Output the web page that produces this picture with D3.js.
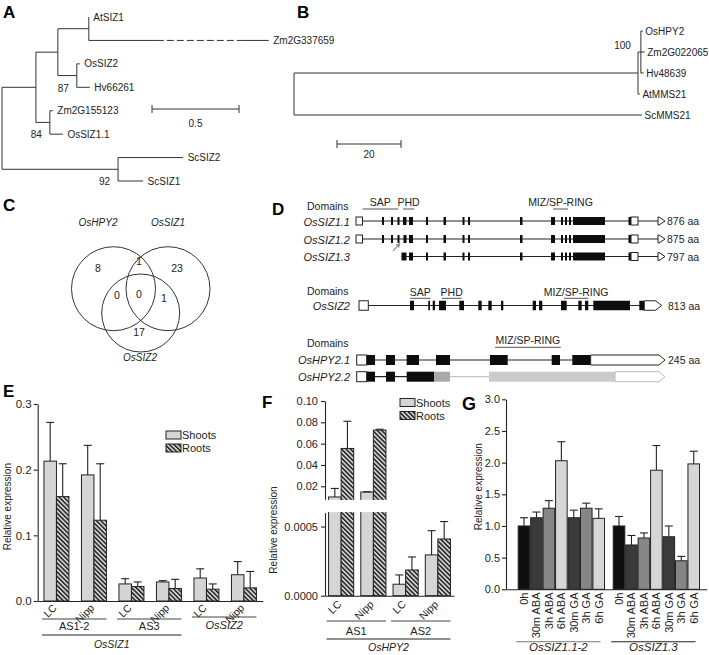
<!DOCTYPE html>
<html><head><meta charset="utf-8">
<script src="https://cdn.jsdelivr.net/npm/d3@7/dist/d3.min.js"></script>
<style>html,body{margin:0;padding:0;background:#fff}svg{display:block}</style>
</head><body>
<svg id="fig" width="709" height="655"></svg>
<script>
// ================= DATA =================
// A: SIZ1-type tree (branch lengths, substitutions/site)
const leafOrderA = ["AtSIZ1","Zm2G337659","OsSIZ2","Hv66261","Zm2G155123","OsSIZ1.1","ScSIZ2","ScSIZ1"];
const treeA = {children:[
  {len:0.195, children:[
    {len:0.126, children:[
      {len:0.178, children:[{name:"AtSIZ1",len:0},{name:"Zm2G337659",len:1.034,gap:[0.378,0.85]}]},
      {len:0.109, boot:"87", children:[{name:"OsSIZ2",len:0.017},{name:"Hv66261",len:0.075}]}
    ]},
    {len:0.080, boot:"84", children:[{name:"Zm2G155123",len:0.017},{name:"OsSIZ1.1",len:0.075}]}
  ]},
  {len:0.667, boot:"92", children:[{name:"ScSIZ2",len:0.374},{name:"ScSIZ1",len:0.144}]}
]};
const scaleBarA = 0.5;

// B: MMS21-type tree
const leafOrderB = ["OsHPY2","Zm2G022065","Hv48639","AtMMS21","ScMMS21"];
const treeB = {children:[
  {len:107.5, children:[
    {len:0.9, boot:"100", children:[{name:"OsHPY2",len:0.6},{name:"Zm2G022065",len:1.2},{name:"Hv48639",len:0.9}]},
    {name:"AtMMS21",len:0.6}
  ]},
  {name:"ScMMS21",len:108.75}
]};
const scaleBarB = 20;

// C: Venn
const vennSets = ["OsHPY2","OsSIZ1","OsSIZ2"];
const vennRegions = ["OsHPY2 only","OsSIZ1 only","OsSIZ2 only","OsHPY2+OsSIZ1","OsHPY2+OsSIZ2","OsSIZ1+OsSIZ2","all"];
const vennCounts = [8,23,17,1,0,1,0];

// D: gene models (relative position units, type)
const siz11 = [[1,7.5,"utr"],[27,29,"cds"],[36,38,"cds"],[42.5,44.5,"cds"],[48,51.5,"cds"],[54,58,"cds"],[71,73,"cds"],[88.5,91,"cds"],[107.5,109.5,"cds"],[113,115,"cds"],[165,167.5,"cds"],[196,200,"cds"],[206,208,"cds"],[210,212,"cds"],[214,216,"cds"],[218,250,"cds"],[273.5,276,"cds"],[276,283,"utr"],[303,310,"end"]];
const siz12 = [[1,7.5,"utr"],[27,29,"cds"],[36,38,"cds"],[42.5,44.5,"cds"],[48.5,51.5,"cds"],[54,58,"cds"],[71,73,"cds"],[88.5,91,"cds"],[107.5,109.5,"cds"],[113,115,"cds"],[165,167.5,"cds"],[196,200,"cds"],[206,208,"cds"],[210,212,"cds"],[214,216,"cds"],[218,250,"cds"],[273.5,276,"cds"],[276,283,"utr"],[303,310,"end"]];
const siz13 = [[46.5,51.5,"cds"],[54,58,"cds"],[71,73,"cds"],[88.5,91,"cds"],[107.5,109.5,"cds"],[113,115,"cds"],[165,167.5,"cds"],[196,200,"cds"],[206,208,"cds"],[210,212,"cds"],[214,216,"cds"],[218,250,"cds"],[273.5,276,"cds"],[276,283,"utr"],[303,310,"end"]];
const siz2 = [[4,13.3,"utr"],[55,59,"cds"],[73.3,75,"cds"],[77.7,80,"cds"],[84,91,"cds"],[104.3,109,"cds"],[123.3,126.7,"cds"],[133.3,136.7,"cds"],[146,148.3,"cds"],[177.7,181,"cds"],[184,187.3,"cds"],[206,211.7,"cds"],[223.3,226.7,"cds"],[230,233.3,"cds"],[238.3,275,"cds"],[284.3,289.3,"cds"],[289.3,306.7,"end"]];
const hpy21 = [[1.7,11.7,"utr"],[11.7,20,"cds"],[31,40,"cds"],[51.7,64,"cds"],[81,95,"cds"],[135,152.7,"cds"],[196.7,205,"cds"],[217.3,235.7,"cds"],[235.7,310,"end"]];
const hpy22 = [[1.7,11.7,"utr"],[11.7,20,"cds"],[31,40,"cds"],[51.7,79.3,"cds"],[79.3,95,"mid"],[134,260,"pale"],[260,310,"endPale"]];
const hpy22Introns = [[1.7,79.3,"dark"],[95,134,"pale"]];
const domainsSIZ1 = [["SAP",7.5,43],["PHD",48,59],["MIZ/SP-RING",198,213]];
const domainsSIZ2 = [["SAP",55,75.7],["PHD",86.7,106.7],["MIZ/SP-RING",209,233.3]];
const domainsHPY2 = [["MIZ/SP-RING",140,205.7]];
const proteinLengths = ["876 aa","875 aa","797 aa","813 aa","245 aa"];

// E: qRT-PCR OsSIZ1 / OsSIZ2
const eCats = ["AS1-2 LC","AS1-2 Nipp","AS3 LC","AS3 Nipp","OsSIZ2 LC","OsSIZ2 Nipp"];
const eTickLabels = ["LC","Nipp","LC","Nipp","LC","Nipp"];
const eAmplicons = ["AS1-2","AS1-2","AS3","AS3","OsSIZ2","OsSIZ2"];
const eShoots = [0.213,0.192,0.026,0.029,0.035,0.040];
const eShootsSD = [0.059,0.045,0.008,0.002,0.014,0.020];
const eRoots = [0.159,0.123,0.022,0.019,0.018,0.020];
const eRootsSD = [0.050,0.086,0.007,0.014,0.008,0.025];
const eYTicks = [0,0.1,0.2,0.3];

// F: qRT-PCR OsHPY2
const fCats = ["AS1 LC","AS1 Nipp","AS2 LC","AS2 Nipp"];
const fTickLabels = ["LC","Nipp","LC","Nipp"];
const fAmplicons = ["AS1","AS1","AS2","AS2"];
const fShoots = [0.0100,0.0146,0.000083,0.000295];
const fShootsSD = [0.0080,0.0003,0.000067,0.000175];
const fRoots = [0.0555,0.0727,0.000186,0.00041];
const fRootsSD = [0.0255,0.0008,0.000094,0.000126];
const fYTicksTop = [0.02,0.04,0.06,0.08,0.10];
const fYTicksBottom = [0,0.0005];
const fBreak = [0.0006,0.0078];

// G: hormone treatments
const gGroups = ["OsSIZ1.1-2","OsSIZ1.3"];
const gConds = ["0h","30m ABA","3h ABA","6h ABA","30m GA","3h GA","6h GA"];
const gVals1 = [1.00,1.13,1.28,2.03,1.13,1.28,1.12];
const gSD1 = [0.13,0.09,0.12,0.30,0.12,0.08,0.15];
const gVals2 = [1.00,0.70,0.81,1.88,0.83,0.45,1.98];
const gSD2 = [0.15,0.15,0.08,0.39,0.17,0.07,0.20];
const gYTicks = [0,0.5,1,1.5,2,2.5,3];

// ================= DRAWING =================
const FONT = '"Liberation Sans", Arial, Helvetica, sans-serif';
const INK = "#232323";
const svg = d3.select("#fig");

const defs = svg.append("defs");
const pat = defs.append("pattern").attr("id","hatch").attr("patternUnits","userSpaceOnUse")
  .attr("width",3.2).attr("height",3.2).attr("patternTransform","rotate(-45)");
pat.append("rect").attr("width",3.2).attr("height",3.2).attr("fill","#cfcfcf");
pat.append("rect").attr("width",1.4).attr("height",3.2).attr("fill","#1a1a1a");

function txt(g, x, y, s, o = {}) {
  const t = g.append("text").attr("x", x).attr("y", y).text(s)
    .style("font-family", FONT).style("font-size", (o.size || 11) + "px").attr("fill", o.fill || INK);
  if (o.anchor) t.attr("text-anchor", o.anchor);
  if (o.italic) t.style("font-style", "italic");
  if (o.bold) t.style("font-weight", "bold");
  if (o.rotate != null) t.attr("transform", `rotate(${o.rotate},${x},${y})`);
  return t;
}
function ln(g, x1, y1, x2, y2, o = {}) {
  const l = g.append("line").attr("x1", x1).attr("y1", y1).attr("x2", x2).attr("y2", y2)
    .attr("stroke", o.stroke || INK).attr("stroke-width", o.w || 1);
  if (o.dash) l.attr("stroke-dasharray", o.dash);
  return l;
}

// panel letters
const letters = [["A",3,18,17],["B",297,18,17],["C",3,211,17],["D",272,215,17],["E",3,397,17],["F",262,408,17],["G",462,410,18]];
letters.forEach(([s,x,y,sz]) => txt(svg, x, y, s, {size: sz, bold: true, fill: "#000"}));

// ---- trees ----
function drawTree(data, leafOrder, xs, yRange, opt) {
  const ys = d3.scalePoint().domain(leafOrder).range(yRange);
  const root = d3.hierarchy(data);
  root.eachBefore(n => { n.bl = (n.parent ? n.parent.bl : 0) + (n.data.len || 0); });
  root.eachAfter(n => { n.py = n.children ? (n.children[0].py + n.children[n.children.length-1].py) / 2 : ys(n.data.name); });
  const g = svg.append("g");
  root.each(n => {
    const x = xs(n.bl);
    if (n.children) ln(g, x, n.children[0].py, x, n.children[n.children.length-1].py, {stroke:"#333"});
    if (n.parent) {
      const x0 = xs(n.parent.bl);
      if (n.data.gap) {
        const xa = x0 + (x - x0) * n.data.gap[0], xb = x0 + (x - x0) * n.data.gap[1];
        ln(g, x0, n.py, xa, n.py, {stroke:"#333"});
        ln(g, xa, n.py, xb, n.py, {stroke:"#333", dash:"7,3"});
        ln(g, xb, n.py, x, n.py, {stroke:"#333"});
      } else ln(g, x0, n.py, x, n.py, {stroke:"#333"});
    }
    if (!n.children) txt(g, x + opt.labelDx, n.py + 3.6, n.data.name, {size: opt.size});
    if (n.data.boot) txt(g, x + opt.bootDx, n.py + opt.bootDy, n.data.boot, {size: opt.size, anchor: "end"});
  });
  return g;
}
const xsA = d3.scaleLinear().domain([0,1]).range([2,176]);
const gA = drawTree(treeA, leafOrderA, xsA, [17,181], {labelDx:4.5, bootDx:-8, bootDy:16, size:10});
{
  const x0 = 152, x1 = x0 + xsA(scaleBarA) - xsA(0), y = 109;
  ln(gA, x0, y, x1, y, {stroke:"#333"}); ln(gA, x0, y-4, x0, y+4, {stroke:"#333"}); ln(gA, x1, y-4, x1, y+4, {stroke:"#333"});
  txt(gA, (x0+x1)/2, y+18, String(scaleBarA), {size:10, anchor:"middle"});
}
const xsB = d3.scaleLinear().domain([0,100]).range([294,614]);
const gB = drawTree(treeB, leafOrderB, xsB, [31,115], {labelDx:2.5, bootDx:-10, bootDy:-3, size:10});
{
  const x0 = 337, x1 = x0 + xsB(scaleBarB) - xsB(0), y = 144;
  ln(gB, x0, y, x1, y, {stroke:"#333"}); ln(gB, x0, y-4, x0, y+4, {stroke:"#333"}); ln(gB, x1, y-4, x1, y+4, {stroke:"#333"});
  txt(gB, (x0+x1)/2, y+14, String(scaleBarB), {size:10, anchor:"middle"});
}

// ---- Venn ----
{
  const g = svg.append("g");
  const centers = [[113.5,288.7,42],[168,288.7,42],[140.7,313,39]];
  centers.forEach(c => g.append("circle").attr("cx", c[0]).attr("cy", c[1]).attr("r", c[2])
    .attr("fill","none").attr("stroke","#333").attr("stroke-width",1));
  const setPos = [[98,225.5],[168,225.5],[140,361]];
  vennSets.forEach((s,i) => txt(g, setPos[i][0], setPos[i][1], s, {size:10, italic:true, anchor:"middle"}));
  const regPos = [[98,272],[177,272],[139,336],[139,265],[117,299],[164,302],[139,298]];
  vennCounts.forEach((v,i) => txt(g, regPos[i][0], regPos[i][1], String(v), {size:10.5, anchor:"middle"}));
}

// ---- D: gene models ----
const gx = d3.scaleLinear().domain([0,310]).range([355,665]);
function drawGene(g, parts, y, h, introns) {
  const ints = introns || [[parts[0][0], parts[parts.length-1][0], "dark"]];
  ints.forEach(([a,b,c]) => ln(g, gx(a), y, gx(b), y, {stroke: c === "pale" ? "#c4c4c4" : INK, w: 1.2}));
  parts.forEach(([a,b,t]) => {
    const x0 = gx(a), x1 = gx(b);
    if (t === "end" || t === "endPale") {
      const tip = Math.min(6, x1 - x0);
      const pts = [[x0,y-h/2],[x1-tip,y-h/2],[x1,y],[x1-tip,y+h/2],[x0,y+h/2]];
      g.append("polygon").attr("points", pts.map(p => p.join(",")).join(" "))
        .attr("fill","#fff").attr("stroke", t === "end" ? INK : "#bdbdbd").attr("stroke-width",1);
    } else {
      const fill = {utr:"#fff", cds:"#0d0d0d", mid:"#a9a9a9", pale:"#cbcbcb"}[t];
      const r = g.append("rect").attr("x", x0).attr("y", y - h/2).attr("width", x1 - x0).attr("height", h).attr("fill", fill);
      if (t === "utr") r.attr("stroke", INK).attr("stroke-width", 1);
    }
  });
}
function drawDomains(g, doms, lineY, labelY) {
  doms.forEach(([name,a,b]) => {
    ln(g, gx(a), lineY, gx(b), lineY, {stroke:"#555", w:1});
    txt(g, (gx(a)+gx(b))/2, labelY, name, {size:10.5, anchor:"middle"});
  });
}
{
  const g = svg.append("g");
  // SIZ1 block
  txt(g, 307, 210, "Domains", {size:10.5});
  drawDomains(g, domainsSIZ1, 209, 206);
  const siz1Rows = [[siz11,"OsSIZ1.1",221],[siz12,"OsSIZ1.2",239],[siz13,"OsSIZ1.3",256.5]];
  siz1Rows.forEach(([parts,name,y],i) => {
    drawGene(g, parts, y, 8);
    txt(g, 350, y + 4.5, name, {size:11, italic:true, anchor:"end"});
    txt(g, 667, y + 4, proteinLengths[i], {size:10.5});
  });
  // small grey arrow marking alternative site
  g.append("path").attr("d","M392.5,250.5 L397,246 L395.5,244.5 L400.5,243 L399,248 L397.8,246.8 L393.5,251.3 Z")
    .attr("fill","#8c8c8c");
  // SIZ2 block
  txt(g, 307, 294.5, "Domains", {size:10.5});
  drawDomains(g, domainsSIZ2, 298.3, 295.5);
  drawGene(g, siz2, 305.5, 9.5);
  txt(g, 350, 310, "OsSIZ2", {size:11, italic:true, anchor:"end"});
  txt(g, 668, 309.5, proteinLengths[3], {size:10.5});
  // HPY2 block
  txt(g, 307, 347, "Domains", {size:10.5});
  drawDomains(g, domainsHPY2, 347.3, 344);
  drawGene(g, hpy21, 360, 10);
  txt(g, 350, 364, "OsHPY2.1", {size:11, italic:true, anchor:"end"});
  txt(g, 668, 364, proteinLengths[4], {size:10.5});
  drawGene(g, hpy22, 376.7, 10, hpy22Introns);
  txt(g, 350, 381, "OsHPY2.2", {size:11, italic:true, anchor:"end"});
}

// ---- helpers for bar charts ----
function styleAxis(sel, size) {
  sel.selectAll("path.domain").attr("stroke", INK).attr("stroke-width", 1.1);
  sel.selectAll(".tick line").attr("stroke", INK).attr("stroke-width", 1.1);
  sel.selectAll(".tick text").style("font-family", FONT).style("font-size", size + "px").attr("fill", INK);
}
function errBar(g, cx, yTop, yErr, cap) {
  ln(g, cx, yTop, cx, yErr, {w:1.1});
  ln(g, cx - cap/2, yErr, cx + cap/2, yErr, {w:1.1});
}
function legend(g, x, y) {
  g.append("rect").attr("x", x).attr("y", y).attr("width", 15).attr("height", 8).attr("fill","#d5d5d5").attr("stroke", INK).attr("stroke-width",1);
  txt(g, x + 16, y + 8, "Shoots", {size:11});
  g.append("rect").attr("x", x).attr("y", y + 13).attr("width", 15).attr("height", 8).attr("fill","url(#hatch)").attr("stroke", INK).attr("stroke-width",1);
  txt(g, x + 16, y + 21, "Roots", {size:11});
}
function groupLines(g, xb, cats, groups, lineY, labelY, size) {
  const names = Array.from(new Set(groups));
  names.forEach(nm => {
    const idx = cats.filter((c,i) => groups[i] === nm);
    const a = xb(idx[0]) - 2, b = xb(idx[idx.length-1]) + xb.bandwidth();
    const ly = typeof lineY === "function" ? lineY(nm) : lineY;
    const ty = typeof labelY === "function" ? labelY(nm) : labelY;
    ln(g, a, ly, b, ly, {stroke:"#444", w:1.1});
    txt(g, (a+b)/2, ty, nm, {size: size, anchor:"middle", italic: nm.startsWith("Os")});
  });
}

// ---- E ----
{
  const g = svg.append("g");
  const ey = d3.scaleLinear().domain([0,0.3]).range([601,404]);
  const ex = d3.scaleBand().domain(eCats).range([37.7,262.7]).paddingInner(1/3).paddingOuter(1/6);
  const es = d3.scaleBand().domain(["Shoots","Roots"]).range([0, ex.bandwidth()]);
  eCats.forEach((c,i) => {
    [[eShoots,eShootsSD,"Shoots","#d5d5d5"],[eRoots,eRootsSD,"Roots","url(#hatch)"]].forEach(([vals,sd,s,fill]) => {
      const x = ex(c) + es(s), w = es.bandwidth();
      errBar(g, x + w/2, ey(vals[i]), ey(vals[i] + sd[i]), 8);
      g.append("rect").attr("x", x).attr("y", ey(vals[i])).attr("width", w).attr("height", ey(0) - ey(vals[i]))
        .attr("fill", fill).attr("stroke", INK).attr("stroke-width", 1);
    });
  });
  g.append("g").attr("transform","translate(37.7,0)")
    .call(d3.axisLeft(ey).tickValues(eYTicks).tickFormat(d3.format(".1f")).tickSize(4).tickSizeOuter(0).tickPadding(2))
    .call(s => styleAxis(s, 11.5));
  g.append("g").attr("transform","translate(0,601)")
    .call(d3.axisBottom(ex).tickSize(0).tickFormat(""))
    .call(s => styleAxis(s, 11));
  eCats.forEach((c,i) => {
    const ax = ex(c) + ex.bandwidth()/2 + 1, ay = 608.5;
    txt(g, ax, ay, eTickLabels[i], {size:10.5, anchor:"end", rotate:-45});
  });
  groupLines(g, ex, eCats, eAmplicons, nm => nm === "OsSIZ2" ? 617 : 619, nm => nm === "OsSIZ2" ? 629 : 629.5, 11);
  const geneCats = eCats.slice(0,4);
  const a = ex(geneCats[0]) - 2, b = ex(geneCats[3]) + ex.bandwidth();
  ln(g, a, 635, b, 635, {stroke:"#222", w:1.1});
  txt(g, (a+b)/2, 647.5, "OsSIZ1", {size:10.5, anchor:"middle", italic:true});
  txt(g, 11, 506.7, "Relative expression", {size:10, anchor:"middle", rotate:-90});
  legend(g, 166, 431);
}

// ---- F ----
{
  const g = svg.append("g");
  const yTop = d3.scaleLinear().domain([fBreak[1],0.10]).range([499.3,401]);
  const yBot = d3.scaleLinear().domain([0,fBreak[0]]).range([595.7,512.7]);
  const fx = d3.scaleBand().domain(fCats).range([325,454]).paddingInner(0.22).paddingOuter(0.11);
  const fs = d3.scaleBand().domain(["Shoots","Roots"]).range([0, fx.bandwidth()]);
  const series = [[fShoots,fShootsSD,"Shoots","#d5d5d5"],[fRoots,fRootsSD,"Roots","url(#hatch)"]];
  fCats.forEach((c,i) => {
    series.forEach(([vals,sd,s,fill]) => {
      const x = fx(c) + fs(s), w = fs.bandwidth(), v = vals[i];
      if (v > fBreak[0]) {
        g.append("rect").attr("x", x).attr("y", yBot(fBreak[0]) - 3).attr("width", w).attr("height", yBot(0) - yBot(fBreak[0]) + 3)
          .attr("fill", fill).attr("stroke", INK).attr("stroke-width", 1);
        g.append("rect").attr("x", x).attr("y", yTop(v)).attr("width", w).attr("height", yTop(fBreak[1]) + 3 - yTop(v))
          .attr("fill", fill).attr("stroke", INK).attr("stroke-width", 1);
      } else {
        g.append("rect").attr("x", x).attr("y", yBot(v)).attr("width", w).attr("height", yBot(0) - yBot(v))
          .attr("fill", fill).attr("stroke", INK).attr("stroke-width", 1);
      }
    });
  });
  // axis break gap
  g.append("rect").attr("x", 326).attr("y", yTop(fBreak[1]) + 0.6).attr("width", 70).attr("height", yBot(fBreak[0]) - yTop(fBreak[1]) - 1.2).attr("fill","#fff");
  fCats.forEach((c,i) => {
    series.forEach(([vals,sd,s]) => {
      const x = fx(c) + fs(s), w = fs.bandwidth(), v = vals[i];
      const yy = v > fBreak[0] ? yTop : yBot;
      errBar(g, x + w/2, yy(v), yy(v + sd[i]), 8);
    });
  });
  g.append("g").attr("transform","translate(325,0)")
    .call(d3.axisLeft(yTop).tickValues(fYTicksTop).tickFormat(d3.format(".2f")).tickSize(4).tickSizeOuter(0).tickPadding(3))
    .call(s => styleAxis(s, 11));
  g.append("g").attr("transform","translate(325,0)")
    .call(d3.axisLeft(yBot).tickValues(fYTicksBottom).tickFormat(d3.format(".4f")).tickSize(4).tickSizeOuter(0).tickPadding(3))
    .call(s => styleAxis(s, 11));
  g.append("g").attr("transform","translate(0,595.7)")
    .call(d3.axisBottom(fx).tickSize(0).tickFormat(""))
    .call(s => styleAxis(s, 11));
  fCats.forEach((c,i) => {
    const ax = fx(c) + fx.bandwidth()/2 + 1, ay = 605;
    txt(g, ax, ay, fTickLabels[i], {size:10.5, anchor:"end", rotate:-45});
  });
  groupLines(g, fx, fCats, fAmplicons, 621, 634.5, 11);
  const a = fx(fCats[0]) - 2, b = fx(fCats[3]) + fx.bandwidth();
  ln(g, a, 639, b, 639, {stroke:"#222", w:1.1});
  txt(g, (a+b)/2, 650.5, "OsHPY2", {size:10.5, anchor:"middle", italic:true});
  txt(g, 277, 530, "Relative expression", {size:10, anchor:"middle", rotate:-90});
  legend(g, 400, 398.5);
}

// ---- G ----
{
  const g = svg.append("g");
  const colors = ["#0e0e0e","#3a3a3a","#868686","#d6d6d6","#3a3a3a","#868686","#d6d6d6"];
  const gy = d3.scaleLinear().domain([0,3]).range([589.3,399.3]);
  const gx0 = d3.scaleBand().domain(gGroups).range([506,706.7]).paddingInner(0.0916).paddingOuter(0.102).align(0.63);
  const gx1 = d3.scaleBand().domain(gConds).range([0, gx0.bandwidth()]).paddingInner(0.07);
  const valsByGroup = [gVals1, gVals2], sdByGroup = [gSD1, gSD2];
  gGroups.forEach((grp,gi) => {
    gConds.forEach((cond,ci) => {
      const x = gx0(grp) + gx1(cond), w = gx1.bandwidth(), v = valsByGroup[gi][ci];
      errBar(g, x + w/2, gy(v), gy(v + sdByGroup[gi][ci]), 8);
      g.append("rect").attr("x", x).attr("y", gy(v)).attr("width", w).attr("height", gy(0) - gy(v))
        .attr("fill", colors[ci]).attr("stroke", INK).attr("stroke-width", 1);
      txt(g, x + w/2 + 4, 592.5, cond, {size:11, anchor:"end", rotate:-90});
    });
    const a = gx0(grp) - 2, b = gx0(grp) + gx0.bandwidth() - 4;
    ln(g, a, 641.7, b, 641.7, {stroke: gi === 0 ? "#777" : "#222", w:1.1});
    txt(g, (a+b)/2, 650.5, grp, {size:11.5, anchor:"middle", italic:true});
  });
  g.append("g").attr("transform","translate(506,0)")
    .call(d3.axisLeft(gy).tickValues(gYTicks).tickFormat(d3.format(".1f")).tickSize(4).tickSizeOuter(0).tickPadding(2))
    .call(s => styleAxis(s, 11));
  g.append("g").attr("transform","translate(0,589.3)")
    .call(d3.axisBottom(gx0).tickSize(0).tickFormat(""))
    .call(s => styleAxis(s, 11));
  txt(g, 482, 486.7, "Relative expression", {size:10, anchor:"middle", rotate:-90});
}
</script>
</body></html>
